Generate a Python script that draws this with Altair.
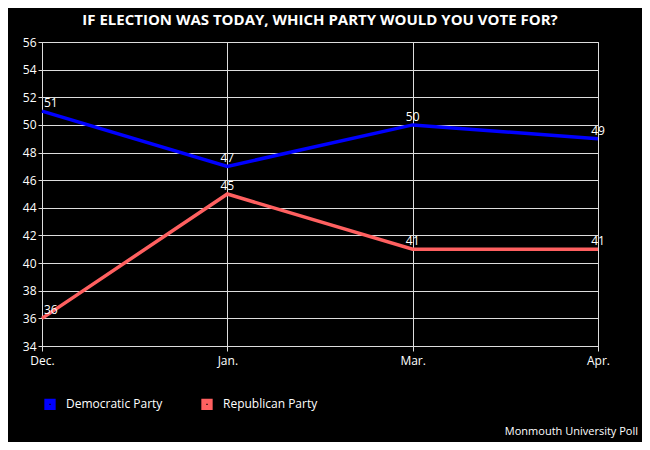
import altair as alt
import pandas as pd

months = ["Dec.", "Jan.", "Mar.", "Apr."]
democratic = [51, 47, 50, 49]
republican = [36, 45, 41, 41]
parties = ["Democratic Party", "Republican Party"]

rows = []
for m, d, r in zip(months, democratic, republican):
    rows.append({"month": m, "party": parties[0], "value": d})
    rows.append({"month": m, "party": parties[1], "value": r})
data = pd.DataFrame(rows)

x = alt.X("month:N", sort=months, title=None,
          scale=alt.Scale(type="point", padding=0),
          axis=alt.Axis(labelAngle=0, labelColor="white", labelFont="Open Sans", labelFontSize=12,
                        grid=True, gridColor="#dddddd", domainColor="#dddddd", tickColor="#dddddd",
                        labelPadding=4))
y = alt.Y("value:Q", title=None,
          scale=alt.Scale(domain=[34, 56], nice=False, zero=False),
          axis=alt.Axis(values=list(range(34, 57, 2)), labelColor="white", labelFont="Open Sans",
                        labelFontSize=12, gridColor="#dddddd", domainColor="#dddddd",
                        tickColor="#dddddd", tickSize=4))
color = alt.Color("party:N", scale=alt.Scale(domain=parties, range=["#0000ff", "#ff6060"]),
                  legend=alt.Legend(title=None, orient="none", legendX=2, legendY=356,
                                    direction="horizontal", symbolType="square", symbolSize=40,
                                    symbolStrokeWidth=5, labelColor="white", labelFont="Open Sans",
                                    labelFontSize=12, columnPadding=30, labelOffset=10))

base = alt.Chart(data)
lines = base.mark_line(strokeWidth=3.5).encode(x=x, y=y, color=color)
labels_first = base.transform_filter(alt.datum.month == "Dec.").mark_text(
    align="left", dy=-8, dx=2, color="white", font="Open Sans", fontSize=12
).encode(x=x, y=y, text="value:Q")
labels_rest = base.transform_filter(alt.datum.month != "Dec.").mark_text(
    align="center", dy=-8, color="white", font="Open Sans", fontSize=12
).encode(x=x, y=y, text="value:Q")
credit = alt.Chart(pd.DataFrame({"t": ["Monmouth University Poll"]})).mark_text(
    align="right", baseline="middle", color="white", font="Open Sans", fontSize=11
).encode(x=alt.value(596), y=alt.value(390), text="t:N")

chart = alt.layer(lines, labels_first, labels_rest, credit).properties(
    width=556, height=304,
    autosize=alt.AutoSizeParams(type="none"),
    padding={"left": 34, "top": 34, "right": 44, "bottom": 96},
    background="black",
    title=alt.Title("IF ELECTION WAS TODAY, WHICH PARTY WOULD YOU VOTE FOR?",
                    color="white", font="Open Sans", fontSize=15, fontWeight="bold",
                    anchor="middle", offset=8),
).configure_view(stroke="#dddddd", fill="black")

chart.save("out.html", embed_options={"renderer": "svg", "actions": False})
